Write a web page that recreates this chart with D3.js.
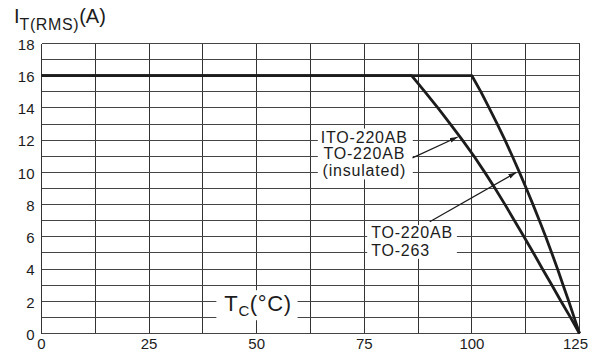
<!DOCTYPE html>
<html>
<head>
<meta charset="utf-8">
<script src="https://cdn.jsdelivr.net/npm/d3@7"></script>
<style>
  body { margin: 0; background: #fff; }
  svg { display: block; font-family: "Liberation Sans", Arial, Helvetica, sans-serif; }
</style>
</head>
<body>
<svg id="chart" width="600" height="352"></svg>
<script>
/* ------------------ data ------------------ */

const xTicks = [0, 25, 50, 75, 100, 125];
const yTicks = [0, 2, 4, 6, 8, 10, 12, 14, 16, 18];

// ITO-220AB / TO-220AB (insulated)
const tempInsulated = [0, 86, 89.1, 92.1, 95.0, 97.8, 100.5, 103.0, 105.4, 107.7, 109.9, 112.1, 114.3, 116.4, 118.6, 120.7, 122.9, 125];
const currInsulated = [16, 16, 15, 14, 13, 12, 11, 10, 9, 8, 7, 6, 5, 4, 3, 2, 1, 0];

// TO-220AB / TO-263
const tempStandard = [0, 100, 102.1, 104.0, 105.9, 107.7, 109.4, 111.05, 112.65, 114.2, 115.7, 117.15, 118.55, 119.9, 121.2, 122.5, 123.75, 125];
const currStandard = [16, 16, 15, 14, 13, 12, 11, 10, 9, 8, 7, 6, 5, 4, 3, 2, 1, 0];

const insulatedLabel = ["ITO-220AB", "TO-220AB", "(insulated)"];
const standardLabel = ["TO-220AB", "TO-263"];

/* ------------------ constants ------------------ */

const WIDTH = 600;
const HEIGHT = 352;
const MARGIN = { top: 43.5, left: 41.5, right: 20.5, bottom: 18.5 };
const INK = "#1c1c1c";
const GRID = "#333";

/* ------------------ render ------------------ */

const svg = d3.select("#chart");

const x = d3.scaleLinear()
  .domain([0, 125])
  .range([MARGIN.left, WIDTH - MARGIN.right]);

const y = d3.scaleLinear()
  .domain([0, 18])
  .range([HEIGHT - MARGIN.bottom, MARGIN.top]);

/* ---- grid ---- */

const grid = svg.append("g")
  .attr("stroke", GRID)
  .attr("stroke-width", 1)
  .attr("shape-rendering", "crispEdges");

grid.selectAll("line.v")
  .data(d3.range(0, 125.01, 12.5))
  .join("line")
  .attr("class", "v")
  .attr("x1", d => x(d)).attr("x2", d => x(d))
  .attr("y1", y(0)).attr("y2", y(18));

grid.selectAll("line.h")
  .data(d3.range(0, 18.01, 1))
  .join("line")
  .attr("class", "h")
  .attr("stroke", "#444")
  .attr("x1", x(0)).attr("x2", x(125))
  .attr("y1", d => y(d)).attr("y2", d => y(d));

/* ---- tick labels ---- */

svg.append("g")
  .attr("font-size", 15)
  .attr("fill", INK)
  .attr("text-anchor", "end")
  .selectAll("text")
  .data(yTicks)
  .join("text")
  .attr("x", MARGIN.left - 7)
  .attr("y", d => y(d) + 1)
  .attr("dy", "0.35em")
  .text(d => d);

svg.append("g")
  .attr("font-size", 15)
  .attr("fill", INK)
  .attr("text-anchor", "middle")
  .selectAll("text")
  .data(xTicks)
  .join("text")
  .attr("x", (d, i) => x(d) + (i === xTicks.length - 1 ? -4 : 0))
  .attr("y", y(0) + 15)
  .text(d => d);

/* ---- axis titles ---- */

const yTitle = svg.append("text")
  .attr("x", 14)
  .attr("y", 23)
  .attr("font-size", 20)
  .attr("fill", INK);
yTitle.append("tspan").text("I");
yTitle.append("tspan").attr("font-size", 16).attr("dy", 7).attr("letter-spacing", 0.6).text("T(RMS)");
yTitle.append("tspan").attr("dy", -7).text("(A)");

function boxed(g, pad) {
  const b = g.node().getBBox();
  g.insert("rect", ":first-child")
    .attr("x", b.x - pad.l)
    .attr("y", b.y - pad.t)
    .attr("width", b.width + pad.l + pad.r)
    .attr("height", b.height + pad.t + pad.b)
    .attr("fill", "#fff");
}

const xTitle = svg.append("g");
const xTitleText = xTitle.append("text")
  .attr("x", x(50.3))
  .attr("y", y(1.86))
  .attr("dy", "0.35em")
  .attr("text-anchor", "middle")
  .attr("font-size", 22)
  .attr("letter-spacing", 0.6)
  .attr("fill", INK);
xTitleText.append("tspan").text("T");
xTitleText.append("tspan").attr("font-size", 15).attr("dy", 5).text("C");
xTitleText.append("tspan").attr("dy", -5).text("(°C)");
boxed(xTitle, { l: 8, r: 6, t: 1, b: 1 });

/* ---- curves ---- */

const line = d3.line()
  .x(d => x(d[0]))
  .y(d => y(d[1]));

const curves = [
  d3.zip(tempInsulated, currInsulated),
  d3.zip(tempStandard, currStandard)
];

svg.append("g")
  .selectAll("path")
  .data(curves)
  .join("path")
  .attr("d", line)
  .attr("fill", "none")
  .attr("stroke", INK)
  .attr("stroke-width", 2.8)
  .attr("stroke-linejoin", "round");

/* ---- annotations ---- */

const note1 = svg.append("g")
  .attr("font-size", 16)
  .attr("letter-spacing", 0.8)
  .attr("fill", INK)
  .attr("text-anchor", "middle");
note1.selectAll("text")
  .data(insulatedLabel)
  .join("text")
  .attr("x", x(75))
  .attr("y", (d, i) => y(12.2 - i * 1.05))
  .attr("dy", "0.35em")
  .text(d => d);
boxed(note1, { l: 3, r: 5, t: 0, b: 0 });

const note2 = svg.append("g")
  .attr("font-size", 16)
  .attr("letter-spacing", 0.8)
  .attr("fill", INK);
note2.selectAll("text")
  .data(standardLabel)
  .join("text")
  .attr("x", x(76.6))
  .attr("y", (d, i) => y(6.27 - i * 1.1))
  .attr("dy", "0.35em")
  .text(d => d);
boxed(note2, { l: 4, r: 4, t: -1, b: 0 });

svg.append("defs").append("marker")
  .attr("id", "head")
  .attr("viewBox", "0 0 10 6")
  .attr("refX", 10)
  .attr("refY", 3)
  .attr("markerWidth", 8)
  .attr("markerHeight", 5)
  .attr("markerUnits", "userSpaceOnUse")
  .attr("orient", "auto")
  .append("path")
  .attr("d", "M0,0L10,3L0,6Z")
  .attr("fill", INK);

const arrows = [
  [[86.2, 10.9], [96.7, 12.2]],
  [[90.2, 6.93], [110.3, 10.0]]
];

svg.append("g")
  .selectAll("line")
  .data(arrows)
  .join("line")
  .attr("x1", d => x(d[0][0])).attr("y1", d => y(d[0][1]))
  .attr("x2", d => x(d[1][0])).attr("y2", d => y(d[1][1]))
  .attr("stroke", INK)
  .attr("stroke-width", 1.2)
  .attr("marker-end", "url(#head)");
</script>
</body>
</html>
